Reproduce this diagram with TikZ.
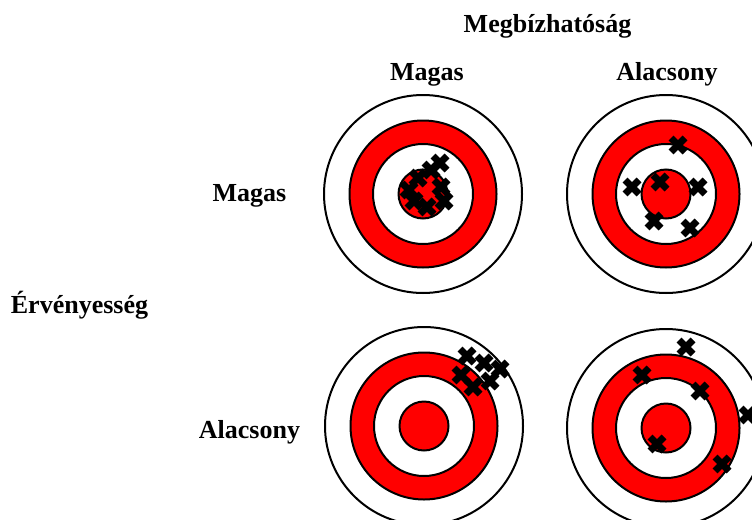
\documentclass[tikz,border=0pt]{standalone}
\usepackage{fontspec}
\setmainfont{Liberation Serif}
\tikzset{
  cimke/.style={font=\bfseries\fontsize{19.5}{23}\selectfont, inner sep=0pt, anchor=base},
  kor/.style={draw=black, line width=1.5pt},
  talalat/.style={black, line width=5.2pt}
}
% Céltábla a megadott középpont körül
\newcommand{\celtabla}[1]{%
  \draw[kor, fill=white] (#1) circle (99);
  \draw[kor, fill=red] (#1) circle (73.5);
  \draw[kor, fill=white] (#1) circle (50);
  \draw[kor, fill=red] (#1) circle (24.5);
}
% Találatok (x alakú jelek) a középponthoz képest
\newcommand{\lovesek}[2]{%
  \foreach \dx/\dy in {#2}
    \draw[talalat, shift={(#1)}] (\dx-7,\dy-7) -- ++(14,14)
                                 (\dx-7,\dy+7) -- ++(14,-14);
}
\begin{document}
\begin{tikzpicture}[x=0.75pt,y=0.75pt]
    \useasboundingbox (0,0) rectangle (752,519);
    \clip (0,0) rectangle (752,519);
    % Feliratok
    \node[cimke] (megb) at (547.5,486) {Megbízhatóság};
    \node[cimke] (oszlopmagas) at (427,439) {Magas};
    \node[cimke] (oszlopalacs) at (667,439) {Alacsony};
    \node[cimke] (sormagas) at (249.5,318) {Magas};
    \node[cimke] (soralacs) at (249.5,81) {Alacsony};
    \node[cimke] (erveny) at (79.5,206) {Érvényesség};
    % Céltáblák középpontjai
    \coordinate (tl) at (423,325);
    \coordinate (tr) at (666,325);
    \coordinate (bl) at (424,93);
    \coordinate (br) at (666,91);
    \celtabla{tl}
    \celtabla{tr}
    \celtabla{bl}
    \celtabla{br}
    % Találatok
    \lovesek{tl}{17/31, 8/24, -5/16, -14/4, 18/7, 21/-7, 4/-13, -9/-7}
    \lovesek{tr}{12/49, -34/7, -6/12, 32/7, -12/-27, 24/-34}
    \lovesek{bl}{43/70, 60/63, 76/57, 37/51, 49/39, 66/45}
    \lovesek{br}{20/81, -24/53, 34/37, 82/13, -9/-16, 56/-36}
\end{tikzpicture}
\end{document}
